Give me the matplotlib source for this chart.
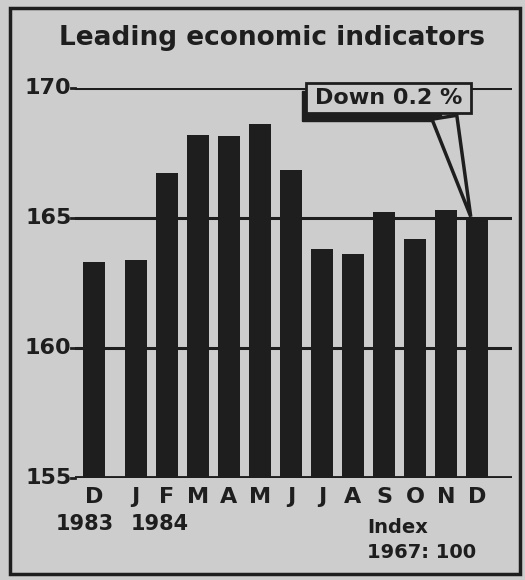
import numpy as np
import matplotlib
matplotlib.use('Agg')
import matplotlib.pyplot as plt
from matplotlib.patches import Rectangle, Polygon

months = ['D', 'J', 'F', 'M', 'A', 'M', 'J', 'J', 'A', 'S', 'O', 'N', 'D']
values = [163.3, 163.4, 166.75, 168.2, 168.15, 168.6, 166.85, 163.8, 163.6, 165.25, 164.2, 165.3, 164.95]
yticks = [155, 160, 165, 170]
years = ['1983', '1984']

plt.rcParams['font.family'] = ['DejaVu Sans']
plt.rcParams['font.weight'] = 'bold'

bg = '#cdcdcd'
ink = '#1e1e1e'

fig = plt.figure(figsize=(5.25, 5.8), dpi=100, facecolor=bg)
ax = fig.add_axes([75/525, 1-478/580, (512-75)/525, (478-88)/580])
ax.set_facecolor(bg)

# gap after first bar (Dec 1983)
x = np.arange(len(values)) + np.where(np.arange(len(values)) > 0, 0.35, 0.0)

for y in yticks[1:]:
    ax.axhline(y, color=ink, lw=2.2, zorder=1)
ax.axhline(155, color=ink, lw=3.5, zorder=3)

ax.bar(x, np.array(values) - 155, bottom=155, width=0.72, color=ink, zorder=2)

ax.set_xlim(-0.61, 13.48)
ax.set_ylim(155, 170)
for s in ax.spines.values():
    s.set_visible(False)
ax.set_xticks([])
ax.set_yticks([])

for y in yticks:
    ax.text(-0.72, y, str(y), ha='right', va='center', fontsize=16, color=ink)
    ax.plot([-0.75, -0.61], [y, y], color=ink, lw=2, clip_on=False)

for xi, m in zip(x, months):
    ax.text(xi, 154.27, m, ha='center', va='center', fontsize=16, color=ink)
ax.text(-0.28, 153.25, years[0], ha='center', va='center', fontsize=15, color=ink)
ax.text(2.12, 153.25, years[1], ha='center', va='center', fontsize=15, color=ink)
ax.text(x[9] - 0.55, 153.08, 'Index', ha='left', va='center', fontsize=14, color=ink)
ax.text(x[9] - 0.55, 152.12, '1967: 100', ha='left', va='center', fontsize=14, color=ink)

# callout box
bx0, bx1 = x[7] - 0.5, x[12] - 0.2
by0, by1 = 169.05, 170.2
ax.add_patch(Rectangle((bx0 - 0.15, by0 - 0.3), bx1 - bx0 - 0.8, by1 - by0, facecolor=ink,
                       edgecolor=ink, clip_on=False, zorder=4))
ax.add_patch(Rectangle((bx0, by0), bx1 - bx0, by1 - by0, facecolor=bg,
                       edgecolor=ink, lw=2, clip_on=False, zorder=5))
ax.text((bx0 + bx1) / 2, (by0 + by1) / 2 - 0.02, 'Down 0.2 %', ha='center', va='center',
        fontsize=16, color=ink, zorder=6)
ax.add_patch(Polygon([(x[12] - 1.45, by0 - 0.25), (x[12] - 0.65, by0 - 0.1),
                      (x[12] - 0.2, values[12] + 0.1)], closed=True,
                     facecolor=bg, edgecolor=ink, lw=2.5, clip_on=False, zorder=4))

fig.text(272/525, 1-38/580, 'Leading economic indicators', ha='center', va='center',
         fontsize=19, color=ink)

fig.add_artist(Rectangle((10/525, 6/580), 510/525, 566/580, transform=fig.transFigure,
                         fill=False, edgecolor=ink, lw=2.5))

fig.savefig('out.png', dpi=100, facecolor=bg)
